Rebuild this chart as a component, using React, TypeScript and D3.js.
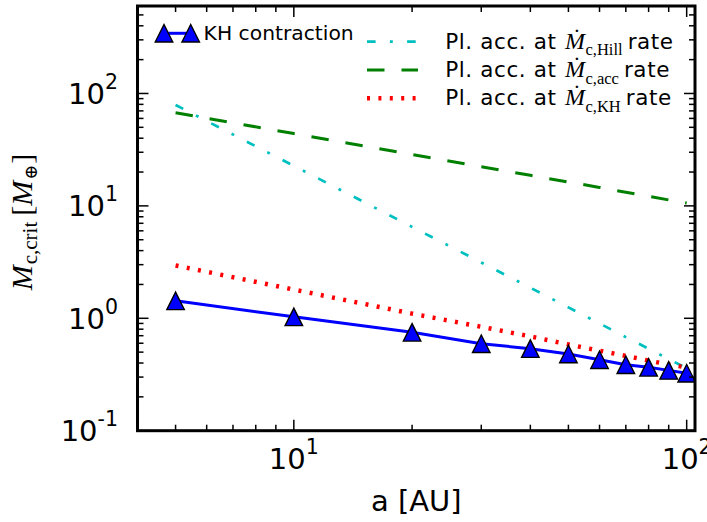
import React from "react";
import * as d3 from "d3";

// ---- data ----
const aKH = [5, 10, 20, 30, 40, 50, 60, 70, 80, 90, 100];
const mKH = [1.43, 1.03, 0.75, 0.594, 0.537, 0.481, 0.428, 0.386, 0.366, 0.344, 0.324];
const aRate = [5, 10, 20, 30, 40, 50, 60, 70, 80, 90, 100];
const mHill = [79, 22.7, 6.5, 3.14, 1.87, 1.25, 0.9, 0.68, 0.536, 0.433, 0.36];
const mAcc = [67.5, 44, 28.6, 22.3, 18.7, 16.3, 14.6, 13.2, 12.2, 11.3, 10.6];
const mKHrate = [2.95, 1.8, 1.1, 0.84, 0.69, 0.585, 0.515, 0.463, 0.42, 0.388, 0.365];

const xMajor = [10, 100];
const xMajorExp = ["1", "2"];
const yMajor = [0.1, 1, 10, 100];
const yMajorExp = ["-1", "0", "1", "2"];

const rateLegend = [
  { sub: "c,Hill", color: "#00bfbf", dash: "8.6 14.3 2.9 14.3", width: 2.7 },
  { sub: "c,acc", color: "#008000", dash: "17.5 17", width: 3 },
  { sub: "c,KH", color: "#ff0000", dash: "3 8.4", width: 4.5 },
];

const W = 707;
const H = 522;
const L = 137.5, R = 695, T = 6, B = 430.7;

export default function App() {
  const x = d3.scaleLog().domain([4, 105]).range([L, R]);
  const y = d3.scaleLog().domain([0.1, 600]).range([B, T]);

  const line = d3
    .line<[number, number]>()
    .x((d) => x(d[0]))
    .y((d) => y(d[1]));

  const series = [mHill, mAcc, mKHrate];

  // minor ticks
  const xMinor: number[] = [];
  for (const dec of [1, 10]) for (let k = 2; k <= 9; k++) {
    const v = k * dec;
    if (v > 4 && v < 105 && !xMajor.includes(v)) xMinor.push(v);
  }
  const yMinor: number[] = [];
  for (const dec of [0.1, 1, 10, 100]) for (let k = 2; k <= 9; k++) {
    const v = k * dec;
    if (v > 0.1 && v < 600) yMinor.push(v);
  }

  const tri = (cx: number, cy: number, s = 8.75) =>
    `M${cx},${cy - s}L${cx + s},${cy + s}L${cx - s},${cy + s}Z`;

  const sans = "DejaVu Sans, Verdana, sans-serif";
  const serif = "Liberation Serif, DejaVu Serif, serif";

  return (
    <svg
      width={W}
      height={H}
      style={{ position: "absolute", left: 0, top: 0, background: "#fff" }}
      xmlns="http://www.w3.org/2000/svg"
    >
      <rect x={0} y={0} width={W} height={H} fill="#fff" />
      <defs>
        <clipPath id="plotclip">
          <rect x={L} y={T} width={R - L} height={B - T} />
        </clipPath>
      </defs>

      {/* data lines */}
      <g clipPath="url(#plotclip)">
        {series.map((s, i) => (
          <path
            key={i}
            d={line(aRate.map((a, j) => [a, s[j]]) as [number, number][]) || ""}
            fill="none"
            stroke={rateLegend[i].color}
            strokeWidth={rateLegend[i].width}
            strokeDasharray={rateLegend[i].dash}
          />
        ))}
        <path
          d={line(aKH.map((a, j) => [a, mKH[j]]) as [number, number][]) || ""}
          fill="none"
          stroke="#0000ff"
          strokeWidth={3}
        />
        {aKH.map((a, j) => (
          <path key={j} d={tri(x(a), y(mKH[j]))} fill="#0000ff" stroke="#000" strokeWidth={1.4} />
        ))}
      </g>

      {/* ticks */}
      <g stroke="#000" strokeWidth={1.5}>
        {xMajor.map((v) => (
          <g key={"xM" + v}>
            <line x1={x(v)} x2={x(v)} y1={B} y2={B - 11} />
            <line x1={x(v)} x2={x(v)} y1={T} y2={T + 11} />
          </g>
        ))}
        {xMinor.map((v) => (
          <g key={"xm" + v}>
            <line x1={x(v)} x2={x(v)} y1={B} y2={B - 6} />
            <line x1={x(v)} x2={x(v)} y1={T} y2={T + 6} />
          </g>
        ))}
        {yMajor.map((v) => (
          <g key={"yM" + v}>
            <line x1={L} x2={L + 11} y1={y(v)} y2={y(v)} />
            <line x1={R} x2={R - 11} y1={y(v)} y2={y(v)} />
          </g>
        ))}
        {yMinor.map((v) => (
          <g key={"ym" + v}>
            <line x1={L} x2={L + 6} y1={y(v)} y2={y(v)} />
            <line x1={R} x2={R - 6} y1={y(v)} y2={y(v)} />
          </g>
        ))}
      </g>

      {/* frame */}
      <rect x={L} y={T} width={R - L} height={B - T} fill="none" stroke="#000" strokeWidth={3} />

      {/* tick labels */}
      <g fontFamily={sans} fill="#000">
        {xMajor.map((v, i) => (
          <text key={"xl" + v} x={x(v)} y={469.3} textAnchor="middle" fontSize={29}>
            <tspan>10</tspan>
            <tspan dy={-15} fontSize={20.5}>{xMajorExp[i]}</tspan>
          </text>
        ))}
        {yMajor.map((v, i) => (
          <text key={"yl" + v} x={118} y={y(v) + 10.3} textAnchor="end" fontSize={29}>
            <tspan>10</tspan>
            <tspan dy={-15} fontSize={20.5}>{yMajorExp[i]}</tspan>
          </text>
        ))}
      </g>

      {/* axis labels */}
      <text x={(L + R) / 2} y={511} textAnchor="middle" fontFamily={sans} fontSize={29}>
        a [AU]
      </text>
      <text transform={`translate(32,222) rotate(-90)`} textAnchor="middle" fontFamily={serif} fontSize={30}>
        <tspan fontStyle="italic">M</tspan>
        <tspan fontSize={21} dy={4.5} dx={1}>c,crit</tspan>
        <tspan dy={-4.5} dx={6}>[</tspan>
        <tspan fontStyle="italic">M</tspan>
        <tspan fontSize={18} dy={4.5} dx={1}>⊕</tspan>
        <tspan dy={-4.5} dx={1}>]</tspan>
      </text>

      {/* legend left */}
      <line x1={164} x2={190.7} y1={33.3} y2={33.3} stroke="#0000ff" strokeWidth={3} />
      <path d={tri(164, 33.3)} fill="#0000ff" stroke="#000" strokeWidth={1.4} />
      <path d={tri(190.7, 33.3)} fill="#0000ff" stroke="#000" strokeWidth={1.4} />
      <text x={203.6} y={40} fontFamily={sans} fontSize={20.3}>KH contraction</text>

      {/* legend right */}
      {rateLegend.map((r, i) => {
        const yy = 41.7 + i * 28.3;
        const by = 48.5 + i * 28.3;
        return (
          <g key={"lg" + i}>
            <line x1={367} x2={418} y1={yy} y2={yy} stroke={r.color} strokeWidth={r.width} strokeDasharray={r.dash} />
            <text x={445.2} y={by} fontFamily={sans} fontSize={21.5} letterSpacing={0.6}>
              Pl. acc. at
            </text>
            <text x={565} y={by} fontFamily={serif} fontSize={24}>
              <tspan fontStyle="italic">Ṁ</tspan>
              <tspan fontSize={16.5} dy={6.7} dx={0.5}>{r.sub}</tspan>
              <tspan dy={-6.7} dx={5} fontFamily={sans} fontSize={21.5} letterSpacing={0.6}>rate</tspan>
            </text>
          </g>
        );
      })}
    </svg>
  );
}
